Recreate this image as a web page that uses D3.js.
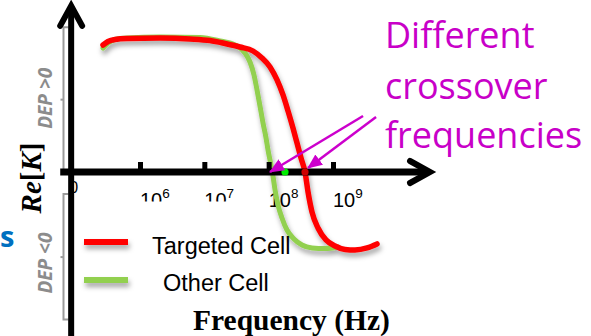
<!DOCTYPE html>
<html><head><meta charset="utf-8">
<script src="https://cdn.jsdelivr.net/npm/d3@7"></script>
<style>html,body{margin:0;padding:0;background:#fff;overflow:hidden}</style>
</head><body><svg id="c" width="591" height="336"></svg>
<script>
// ---- data (frequency as log10 exponent, Re[K] value) ----
const seriesNames = ["Targeted Cell", "Other Cell"];
const seriesColors = ["#ff0000", "#92d050"];
const redLogF = [5.425,5.503,5.611,5.798,6.311,6.777,7.088,7.321,7.554,7.757,7.896,8.021,8.130,8.223,8.301,8.378,8.441,8.503,8.565,8.612,8.674,8.767,8.891,9.031,9.187,9.342,9.529,9.684];
const redReK  = [0.948,0.974,0.989,0.996,1.0,0.993,0.981,0.959,0.933,0.903,0.851,0.784,0.687,0.575,0.455,0.328,0.216,0.104,0,-0.149,-0.299,-0.418,-0.507,-0.552,-0.578,-0.582,-0.567,-0.537];
const greenLogF = [5.425,5.503,5.611,5.798,6.311,6.933,7.244,7.477,7.632,7.710,7.772,7.819,7.865,7.912,7.959,7.990,8.036,8.067,8.099,8.145,8.207,8.285,8.394,8.518,8.674,8.876,9.078];
const greenReK  = [0.925,0.963,0.989,1.0,1.007,1.004,0.978,0.948,0.888,0.821,0.724,0.612,0.493,0.366,0.254,0.164,0.052,-0.030,-0.134,-0.246,-0.343,-0.433,-0.500,-0.545,-0.567,-0.571,-0.560];
const crossoverLogF = [8.254, 8.565];           // other cell, targeted cell
const crossoverColors = ["#00ee00", "#cc0000"];
const tickExponents = [6, 7, 8, 9];
const tickBase = "10";
const originLabel = "0";
const annotationLines = ["Different", "crossover", "frequencies"];
const arrowStartLogF = [9.467, 9.669];
const arrowStartReK = [0.418, 0.410];
const arrowEndLogF = [8.021, 8.612];
const arrowEndReK = [0.0, 0.03];
const xTitle = "Frequency (Hz)";
const yTitle = ["Re", "[", "K", "]"];
const depLabels = ["DEP >0", "DEP <0"];

// ---- layout ----
const svg = d3.select("#c");
const x = d3.scaleLog().domain([1e6, 1e9]).range([140, 333]);
const y = d3.scaleLinear().domain([0, 1]).range([172, 38]);
const xe = e => x(Math.pow(10, e));
const originE = 4.93, axisStartE = 4.76, axisEndE = 10.508;
const x0 = xe(originE), y0 = y(0);

const defs = svg.append("defs");
const f = defs.append("filter").attr("id", "sh").attr("filterUnits", "userSpaceOnUse")
  .attr("x", 0).attr("y", 0).attr("width", 591).attr("height", 336);
f.append("feDropShadow").attr("dx", 1.5).attr("dy", 4).attr("stdDeviation", 2.5)
  .attr("flood-color", "#000").attr("flood-opacity", 0.35);
defs.append("marker").attr("id", "ah").attr("markerUnits", "userSpaceOnUse")
  .attr("viewBox", "0 0 14 12").attr("refX", 13).attr("refY", 6)
  .attr("markerWidth", 15).attr("markerHeight", 13).attr("orient", "auto")
  .append("path").attr("d", "M0,0 L14,6 L0,12 Z").attr("fill", "#cc00cc");

// gray brackets
const gray = "#9a9a9a";
const bx = 63.5;
svg.append("path").attr("d", `M${bx+5},${y(1.08)} H${bx} V${y0-2}`).attr("fill", "none").attr("stroke", gray).attr("stroke-width", 2);
svg.append("path").attr("d", `M${bx},${y(0.54)} h-3`).attr("stroke", gray).attr("stroke-width", 2);
svg.append("path").attr("d", `M${bx+5},${y(-0.165)} H${bx} V${y(-1.1)} H${bx+5}`).attr("fill", "none").attr("stroke", gray).attr("stroke-width", 2);
svg.append("path").attr("d", `M${bx},${y(-0.635)} h-3`).attr("stroke", gray).attr("stroke-width", 2);

// DEP labels
const depY = [y(0.55), y(-0.68)];
depLabels.forEach((t, i) => {
  svg.append("text").attr("transform", `translate(51.5,${depY[i]}) rotate(-90)`)
    .attr("text-anchor", "middle").attr("font-family", "Open Sans").attr("font-weight", "bold")
    .attr("font-style", "italic").attr("font-size", 19).attr("fill", "#8c8c8c").text(t);
});

// Y title Re[K]
const yt = svg.append("text").attr("transform", `translate(41,178) rotate(-90)`)
  .attr("text-anchor", "middle").attr("font-family", "Liberation Serif").attr("font-weight", "bold")
  .attr("font-size", 29).attr("fill", "#000");
yTitle.forEach((s, i) => yt.append("tspan").attr("font-style", (i === 0 || i === 2) ? "italic" : "normal").text(s));

// partial blue letter at left edge
svg.append("text").attr("x", 0).attr("y", 247).attr("font-family", "Open Sans").attr("font-weight", "bold")
  .attr("font-size", 29).attr("fill", "#0070c0").text("s");

// origin label
svg.append("text").attr("x", x0 - 2).attr("y", 193).attr("font-family", "Liberation Sans")
  .attr("font-size", 16).attr("fill", "#000").text(originLabel);

// tick labels
const tl = svg.append("g").attr("font-family", "Liberation Sans").attr("fill", "#000");
tickExponents.forEach(e => {
  const t = tl.append("text").attr("x", xe(e)).attr("y", 206.5).attr("font-size", 20);
  t.append("tspan").text(tickBase);
  t.append("tspan").attr("dy", -8.5).attr("font-size", 13.5).text(e);
});

// curves with shadow
const line = d3.line().x(d => xe(d[0])).y(d => y(d[1])).curve(d3.curveMonotoneX);
const cg = svg.append("g").attr("filter", "url(#sh)");
const greenData = greenLogF.map((v, i) => [v, greenReK[i]]);
const redData = redLogF.map((v, i) => [v, redReK[i]]);
cg.append("path").attr("d", line(greenData)).attr("fill", "none").attr("stroke", seriesColors[1])
  .attr("stroke-width", 5).attr("stroke-linecap", "round");
cg.append("path").attr("d", line(redData)).attr("fill", "none").attr("stroke", seriesColors[0])
  .attr("stroke-width", 5.5).attr("stroke-linecap", "round");

// white legend box (clips bottom of first tick labels)
svg.append("rect").attr("x", x0 + 4).attr("y", 201.5).attr("width", 180).attr("height", 100).attr("fill", "#fff");

// legend
const lg = svg.append("g");
const legY = [242, 280], legTx = [152, 163], legTy = [254, 291];
const lsh = lg.append("g").attr("filter", "url(#sh)");
seriesNames.forEach((n, i) => {
  lsh.append("line").attr("x1", 84).attr("x2", 128).attr("y1", legY[i]).attr("y2", legY[i])
    .attr("stroke", seriesColors[i]).attr("stroke-width", 6);
  lg.append("text").attr("x", legTx[i]).attr("y", legTy[i]).attr("font-family", "Liberation Sans")
    .attr("font-size", 23.5).attr("fill", "#000").text(n);
});

// x axis (ticks via d3 axis)
const ax = svg.append("g").attr("transform", `translate(0,${y0})`)
  .call(d3.axisBottom(x).tickValues(tickExponents.map(e => Math.pow(10, e))).tickSizeInner(-10).tickSizeOuter(0).tickFormat(""));
ax.select(".domain").remove();
ax.selectAll(".tick line").attr("stroke", "#000").attr("stroke-width", 5);
svg.append("line").attr("x1", xe(axisStartE)).attr("x2", xe(axisEndE) - 3).attr("y1", y0).attr("y2", y0)
  .attr("stroke", "#000").attr("stroke-width", 7);
const tipX = xe(axisEndE);
svg.append("path").attr("d", `M${tipX-20},${y0-11} L${tipX},${y0} L${tipX-20},${y0+11}`)
  .attr("fill", "none").attr("stroke", "#000").attr("stroke-width", 6).attr("stroke-linecap", "round");

// y axis
const yTop = y(1.24);
svg.append("line").attr("x1", x0).attr("x2", x0).attr("y1", 340).attr("y2", yTop + 3)
  .attr("stroke", "#000").attr("stroke-width", 6);
svg.append("path").attr("d", `M${x0-11},${yTop+20} L${x0},${yTop} L${x0+11},${yTop+20}`)
  .attr("fill", "none").attr("stroke", "#000").attr("stroke-width", 6).attr("stroke-linecap", "round");

// crossover dots
crossoverLogF.forEach((e, i) => {
  svg.append("circle").attr("cx", xe(e)).attr("cy", y0).attr("r", 3.6).attr("fill", crossoverColors[i]);
});

// annotation arrows
arrowStartLogF.forEach((e, i) => {
  svg.append("line").attr("x1", xe(e)).attr("y1", y(arrowStartReK[i]))
    .attr("x2", xe(arrowEndLogF[i])).attr("y2", y(arrowEndReK[i]))
    .attr("stroke", "#cc00cc").attr("stroke-width", 2.5).attr("marker-end", "url(#ah)");
});

// annotation text
const baselines = [48, 99, 148];
annotationLines.forEach((t, i) => {
  svg.append("text").attr("x", 385).attr("y", baselines[i]).attr("font-family", "Open Sans")
    .attr("font-size", 36).attr("fill", "#c800c8").text(t);
});

// x title
svg.append("text").attr("x", 193).attr("y", 330).attr("font-family", "Liberation Serif")
  .attr("font-weight", "bold").attr("font-size", 29.5).attr("fill", "#000").text(xTitle);
</script></body></html>
